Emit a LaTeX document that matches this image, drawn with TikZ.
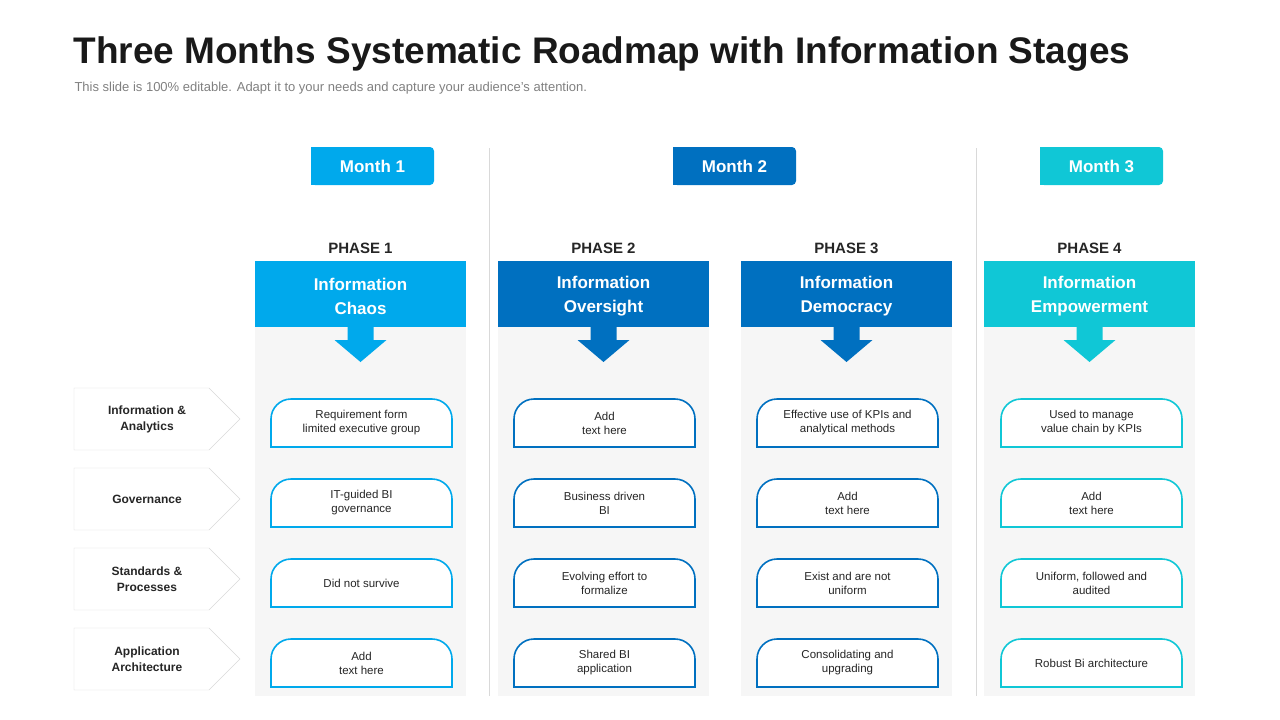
\documentclass[tikz,border=0pt]{standalone}
\usepackage{fontspec}
\setmainfont{Liberation Sans}
\begin{document}
\begin{tikzpicture}[x=1pt,y=-1pt,
  lab/.style={font=\fontsize{12}{14}\selectfont\bfseries,text=black!85,align=center},
  box/.style={font=\fontsize{11.5}{14}\selectfont,text=black!85,align=center},
  hdr/.style={font=\fontsize{17}{24}\selectfont\bfseries,text=white,align=center},
  mon/.style={font=\fontsize{17}{20}\selectfont\bfseries,text=white}]
\definecolor{cA}{HTML}{00A9EC}
\definecolor{cB}{HTML}{0070C0}
\definecolor{cC}{HTML}{10C7D6}
\definecolor{pan}{HTML}{F6F6F6}
\useasboundingbox (0,0) rectangle (1280,720);
\node[anchor=west,font=\fontsize{37}{42}\selectfont\bfseries,text=black!90] (title) at (70,54) {Three Months Systematic Roadmap with Information Stages};
\node[anchor=west,font=\fontsize{13}{15}\selectfont,text=black!50] (sub) at (71,88) {This slide is 100\% editable. Adapt it to your needs and capture your audience's attention.};
% separators
\draw[black!15] (489,148) -- (489,696);
\draw[black!15] (976,148) -- (976,696);
% months
\foreach \n/\x/\c in {1/311/cA,2/673/cB,3/1040/cC}{
  \fill[\c,rounded corners=4] (\x,147) rectangle (\x+123,185);
  \fill[\c] (\x,147) rectangle (\x+10,185);
  \node[mon] (m\n) at (\x+61.5,166) {Month \n};
}
% left labels
\foreach \i/\y/\t in {1/388/{Information \&\\Analytics},2/468/{Governance},3/548/{Standards \&\\Processes},4/628/{Application\\Architecture}}{
  \draw[black!15,fill=white] (74,\y) -- (209,\y) -- (240,\y+31) -- (209,\y+62) -- (74,\y+62) -- cycle;
  \node[lab,font=\fontsize{12}{16}\selectfont\bfseries] (l\i) at (147,\y+31) {\t};
}
% columns
\foreach \k/\x/\c/\a/\b in {1/255/cA/Information/Chaos,2/498/cB/Information/Oversight,3/741/cB/Information/Democracy,4/984/cC/Information/Empowerment}{
  \fill[pan] (\x,327) rectangle (\x+211,696);
  \fill[\c] (\x,261) rectangle (\x+211,327);
  \node[hdr] (h\k) at (\x+105.5,296) {\a\\\b};
  \node[font=\fontsize{15}{16}\selectfont\bfseries,text=black!85] (p\k) at (\x+105.5,248) {PHASE \k};
  \fill[\c] (\x+92.5,326) -- (\x+118.5,326) -- (\x+118.5,340) -- (\x+131.5,340) -- (\x+105.5,362) -- (\x+79.5,340) -- (\x+92.5,340) -- cycle;
}
\newcommand{\rbox}[5]{% name x y color text
  \draw[#4,line width=1.6pt,fill=white] (#2,#3+24) [rounded corners=20] -- (#2,#3-24) -- (#2+181,#3-24) [sharp corners] -- (#2+181,#3+24) -- cycle;
  \node[box,font=\fontsize{11.5}{14}\selectfont] (#1) at (#2+90.5,#3) {#5};
}
\rbox{a1}{271}{423}{cA}{Requirement form\\limited executive group}
\rbox{a2}{271}{503}{cA}{IT-guided BI\\governance}
\rbox{a3}{271}{583}{cA}{Did not survive}
\rbox{a4}{271}{663}{cA}{Add\\text here}
\rbox{b1}{514}{423}{cB}{Add\\text here}
\rbox{b2}{514}{503}{cB}{Business driven\\BI}
\rbox{b3}{514}{583}{cB}{Evolving effort to\\formalize}
\rbox{b4}{514}{663}{cB}{Shared BI\\application}
\rbox{c1}{757}{423}{cB}{Effective use of KPIs and\\analytical methods}
\rbox{c2}{757}{503}{cB}{Add\\text here}
\rbox{c3}{757}{583}{cB}{Exist and are not\\uniform}
\rbox{c4}{757}{663}{cB}{Consolidating and\\upgrading}
\rbox{d1}{1001}{423}{cC}{Used to manage\\value chain by KPIs}
\rbox{d2}{1001}{503}{cC}{Add\\text here}
\rbox{d3}{1001}{583}{cC}{Uniform, followed and\\audited}
\rbox{d4}{1001}{663}{cC}{Robust Bi architecture}
\end{tikzpicture}
\end{document}
